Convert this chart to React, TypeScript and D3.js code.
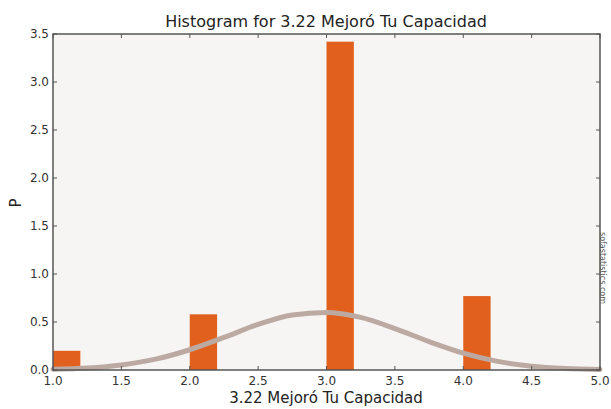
import React from "react";
import * as d3 from "d3";

const binStarts = [1.0, 2.0, 3.0, 4.0];
const binWidth = 0.2;
const binHeights = [0.2, 0.58, 3.42, 0.77];
const curveX = [1.0, 1.25, 1.5, 1.75, 2.0, 2.25, 2.5, 2.75, 3.0, 3.25, 3.5, 3.75, 4.0, 4.25, 4.5, 4.75, 5.0];
const curveY = [0.008, 0.021, 0.053, 0.113, 0.211, 0.339, 0.474, 0.573, 0.6, 0.548, 0.432, 0.296, 0.176, 0.09, 0.04, 0.016, 0.005];
const xTicks = [1.0, 1.5, 2.0, 2.5, 3.0, 3.5, 4.0, 4.5, 5.0];
const yTicks = [0.0, 0.5, 1.0, 1.5, 2.0, 2.5, 3.0, 3.5];
const title = "Histogram for 3.22 Mejoró Tu Capacidad";
const xLabel = "3.22 Mejoró Tu Capacidad";
const yLabel = "P";
const watermark = "sofastatistics.com";

export default function App() {
  const W = 611, H = 409;
  const L = 53, R = 600, T = 34, B = 370;
  const x = d3.scaleLinear().domain([1, 5]).range([L, R]);
  const y = d3.scaleLinear().domain([0, 3.5]).range([B, T]);
  const line = d3.line<number>()
    .x((_, i) => x(curveX[i]))
    .y((d) => y(d))
    .curve(d3.curveMonotoneX);
  const font = "DejaVu Sans, sans-serif";
  return (
    <svg width={W} height={H} style={{ position: "absolute", left: 0, top: 0, background: "#fff" }}>
      <rect x={L} y={T} width={R - L} height={B - T} fill="#f6f5f3" />
      {binStarts.map((s, i) => (
        <rect key={i} x={x(s)} y={y(binHeights[i])} width={x(s + binWidth) - x(s)} height={y(0) - y(binHeights[i])} fill="#e2601e" />
      ))}
      <path d={line(curveY) || ""} fill="none" stroke="#bcaaa2" strokeWidth={5} strokeLinecap="round" />
      <rect x={L} y={T} width={R - L} height={B - T} fill="none" stroke="#555" strokeWidth={1.5} />
      {xTicks.map((t, i) => (
        <g key={i}>
          <line x1={x(t)} x2={x(t)} y1={B} y2={B - 4} stroke="#555" />
          <line x1={x(t)} x2={x(t)} y1={T} y2={T + 4} stroke="#555" />
          <text x={x(t)} y={B + 15} textAnchor="middle" fontSize={12} fill="#333" fontFamily={font}>{t.toFixed(1)}</text>
        </g>
      ))}
      {yTicks.map((t, i) => (
        <g key={i}>
          <line x1={L} x2={L + 4} y1={y(t)} y2={y(t)} stroke="#555" />
          <line x1={R} x2={R - 4} y1={y(t)} y2={y(t)} stroke="#555" />
          <text x={L - 4} y={y(t) + 4} textAnchor="end" fontSize={12} fill="#333" fontFamily={font}>{t.toFixed(1)}</text>
        </g>
      ))}
      <text x={326} y={27} textAnchor="middle" fontSize={16} fill="#222" fontFamily={font}>{title}</text>
      <text x={326} y={403} textAnchor="middle" fontSize={15} fill="#222" fontFamily={font}>{xLabel}</text>
      <text transform={`translate(21,203) rotate(-90)`} textAnchor="middle" fontSize={15} fill="#222" fontFamily={font}>{yLabel}</text>
      <text transform={`translate(600,268) rotate(90)`} textAnchor="middle" fontSize={8} fill="#555" fontFamily={font}>{watermark}</text>
    </svg>
  );
}
